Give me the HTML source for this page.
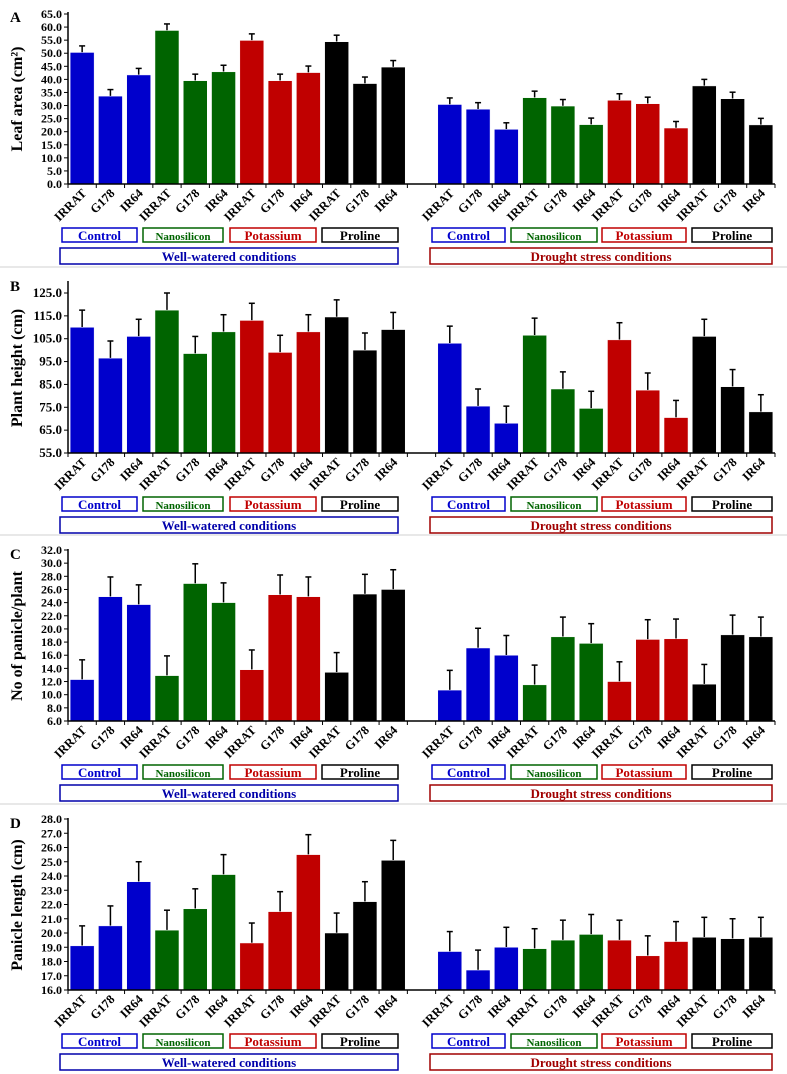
<!DOCTYPE html>
<html><head><meta charset="utf-8"><style>
body{margin:0;background:#fff}
svg{display:block;font-family:"Liberation Serif",serif;font-weight:bold}
</style></head><body>
<svg id="c" width="787" height="1074" viewBox="0 0 787 1074"></svg>
<script>
const categories=["IRRAT","G178","IR64","IRRAT","G178","IR64","IRRAT","G178","IR64","IRRAT","G178","IR64"];
const treatments=["Control","Nanosilicon","Potassium","Proline"];
const conditions=["Well-watered conditions","Drought stress conditions"];
const leafWell=[50.3,33.6,41.7,58.7,39.5,42.9,54.9,39.5,42.6,54.4,38.4,44.7];
const leafDrought=[30.4,28.6,20.9,33.0,29.8,22.7,32.0,30.7,21.4,37.5,32.6,22.6];
const leafErr=[2.5,2.5,2.5,2.5,2.5,2.5,2.5,2.5,2.5,2.5,2.5,2.5];
const heightWell=[110,96.5,106,117.5,98.5,108,113,99,108,114.5,100,109];
const heightDrought=[103,75.5,68,106.5,83,74.5,104.5,82.5,70.5,106,84,73];
const heightErr=[7.5,7.5,7.5,7.5,7.5,7.5,7.5,7.5,7.5,7.5,7.5,7.5];
const panWell=[12.3,24.9,23.7,12.9,26.9,24.0,13.8,25.2,24.9,13.4,25.3,26.0];
const panDrought=[10.7,17.1,16.0,11.5,18.8,17.8,12.0,18.4,18.5,11.6,19.1,18.8];
const panErr=[3,3,3,3,3,3,3,3,3,3,3,3];
const lenWell=[19.1,20.5,23.6,20.2,21.7,24.1,19.3,21.5,25.5,20.0,22.2,25.1];
const lenDrought=[18.7,17.4,19.0,18.9,19.5,19.9,19.5,18.4,19.4,19.7,19.6,19.7];
const lenErr=[1.4,1.4,1.4,1.4,1.4,1.4,1.4,1.4,1.4,1.4,1.4,1.4];
const panels=[
 {letter:"A",title:"Leaf area (cm²)",min:0,max:65,step:5,well:leafWell,dr:leafDrought,err:leafErr,off:0,t:14,fs:12},
 {letter:"B",title:"Plant height (cm)",min:55,max:125,step:10,well:heightWell,dr:heightDrought,err:heightErr,off:269,t:24,fs:13},
 {letter:"C",title:"No of panicle/plant",min:6,max:32,step:2,well:panWell,dr:panDrought,err:panErr,off:537,t:13,fs:12},
 {letter:"D",title:"Panicle length (cm)",min:16,max:28,step:1,well:lenWell,dr:lenDrought,err:lenErr,off:806,t:13,fs:12}];
const colors=["#0000cc","#006400","#c00000","#000000"];
const NS="http://www.w3.org/2000/svg";
const svg=document.getElementById('c');
function el(t,a,p){const e=document.createElementNS(NS,t);for(const k in a)e.setAttribute(k,a[k]);(p||svg).appendChild(e);return e;}
const X0=68,X1=775,slot=(X1-X0)/25;
function xc(i){return X0+(i+0.5)*slot;}
panels.forEach((P,pi)=>{
 const g=el('g',{});
 
 
 const o=P.off, top=o+P.t, bot=o+184;
 const y=v=>bot-(v-P.min)/(P.max-P.min)*(bot-top);
 if(pi>0){const s=el('rect',{x:0,y:o-3,width:787,height:2,fill:'#e8e8e8'},g);}
 const L=el('text',{x:10,y:o+22,'font-size':15},g);L.textContent=P.letter;
 
 const T=el('text',{x:0,y:0,'font-size':16,'text-anchor':'middle',transform:`translate(22,${(o+14+bot)/2}) rotate(-90)`},g);T.textContent=P.title;
 
 for(let v=P.min;v<=P.max+1e-9;v+=P.step){
  const yy=y(v);
  el('line',{x1:X0-4,x2:X0,y1:yy,y2:yy,stroke:'#000','stroke-width':1},g);
  const t=el('text',{x:X0-6,y:yy+4,'font-size':P.fs,'text-anchor':'end'},g);t.textContent=v.toFixed(1);
  
 }
 const vals=[P.well,P.dr];
 vals.forEach((arr,c)=>{
  arr.forEach((v,j)=>{
   const i=c*13+j, cx=xc(i), w=24, col=colors[Math.floor(j/3)];
   const e=P.err[j];
   el('line',{x1:cx,x2:cx,y1:y(v),y2:y(v+e),stroke:'#000','stroke-width':1.5},g);
   el('line',{x1:cx-3,x2:cx+3,y1:y(v+e),y2:y(v+e),stroke:'#000','stroke-width':1.5},g);
   const r=el('rect',{x:cx-w/2,y:y(v),width:w,height:bot-y(v),fill:col,stroke:'#fff','stroke-width':0.5},g);
   
   
   const t=el('text',{x:0,y:0,'font-size':12.5,'text-anchor':'end',transform:`translate(${cx+5},${bot+10}) rotate(-45)`},g);t.textContent=categories[j];
   
  });
 });
 el('line',{x1:X0,x2:X0,y1:o+12,y2:bot,stroke:'#000','stroke-width':1.5},g);
 el('line',{x1:X0,x2:X1,y1:bot,y2:bot,stroke:'#000','stroke-width':1.5},g);
 for(let i=0;i<=25;i++){el('line',{x1:X0+i*slot,x2:X0+i*slot,y1:bot,y2:bot+4,stroke:'#000','stroke-width':1},g);}
 const boxesL=[[62,137],[143,223],[230,316],[322,398]];
 const boxesR=[[432,505],[511,597],[602,686],[692,772]];
 [boxesL,boxesR].forEach((bx,c)=>{
  bx.forEach((b,k)=>{
   const r=el('rect',{x:b[0],y:o+228,width:b[1]-b[0],height:14,fill:'#fff',stroke:colors[k],'stroke-width':1.5},g);
   
   const t=el('text',{x:(b[0]+b[1])/2,y:o+240,'font-size':k==1?11:13,'text-anchor':'middle',fill:colors[k]},g);t.textContent=treatments[k];
  });
  const cx0=c?430:60,cx1=c?772:398,cc=c?'#a00000':'#0000aa';
  const r=el('rect',{x:cx0,y:o+248,width:cx1-cx0,height:16,fill:'#fff',stroke:cc,'stroke-width':1.5},g);
  
  const t=el('text',{x:(cx0+cx1)/2,y:o+261,'font-size':13,'text-anchor':'middle',fill:cc},g);t.textContent=conditions[c];
 });
});
</script>
</body></html>
